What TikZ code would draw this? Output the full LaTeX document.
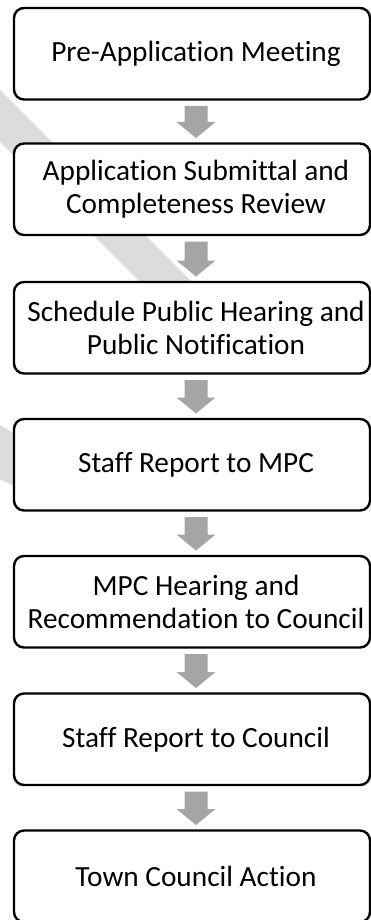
\documentclass[tikz,border=0pt]{standalone}
\usepackage{fontspec}
\setmainfont{Carlito}[Ligatures=NoCommon]
\usetikzlibrary{calc}
\definecolor{arrowgray}{HTML}{A5A5A5}
\definecolor{wmgray}{HTML}{DCDCDC}
\begin{document}
\begin{tikzpicture}[x=1pt,y=1pt,
  stepbox/.style={draw, line width=2.4pt, rounded corners=10pt, fill=white,
    minimum width=356pt, minimum height=91.5pt, inner sep=0pt, outer sep=0pt},
  steptext/.style={font=\fontsize{29.3}{32.5}\selectfont, align=center, inner sep=0pt},
  stripe/.style={fill=wmgray}]
\useasboundingbox (0,0) rectangle (371,-920);
% watermark fragments
\fill[stripe] (0,-90) -- (195,-285) -- (143,-285) -- (0,-142) -- cycle;
\fill[stripe] (0,-425) -- (20,-437) -- (20,-489) -- (0,-479) -- cycle;
% boxes
\node[stepbox] (b1) at (192,-53.75) {};
\node[stepbox] (b2) at (192,-189.25) {};
\node[stepbox] (b3) at (192,-327.75) {};
\node[stepbox] (b4) at (192,-464.75) {};
\node[stepbox] (b5) at (192,-601.75) {};
\node[stepbox] (b6) at (192,-739.25) {};
\node[stepbox] (b7) at (192,-876.25) {};
% arrows
\foreach \a/\b in {b1/b2,b2/b3,b3/b4,b4/b5,b5/b6,b6/b7}{
  \fill[arrowgray] let \p1=(\a.south), \p2=(\b.north) in
    (\x1+4pt-11.5pt,\y1-6.5pt) -- (\x1+4pt+11.5pt,\y1-6.5pt) --
    (\x1+4pt+11.5pt,\y2+21.5pt) -- (\x1+4pt+19.5pt,\y2+21.5pt) --
    (\x1+4pt,\y2+5.5pt) -- (\x1+4pt-19.5pt,\y2+21.5pt) --
    (\x1+4pt-11.5pt,\y2+21.5pt) -- cycle;
}
% texts
\node[steptext] (t1) at ($(b1.center)+(4,0)$) {Pre-Application Meeting};
\node[steptext] (t2) at ($(b2.center)+(4,0)$) {Application Submittal and\\Completeness Review};
\node[steptext] (t3) at ($(b3.center)+(4,0)$) {Schedule Public Hearing and\\Public Notification};
\node[steptext] (t4) at ($(b4.center)+(4,0)$) {Staff Report to MPC};
\node[steptext] (t5) at ($(b5.center)+(4,0)$) {MPC Hearing and\\Recommendation to Council};
\node[steptext] (t6) at ($(b6.center)+(4,0)$) {Staff Report to Council};
\node[steptext] (t7) at ($(b7.center)+(4,0)$) {Town Council Action};
\end{tikzpicture}
\end{document}
